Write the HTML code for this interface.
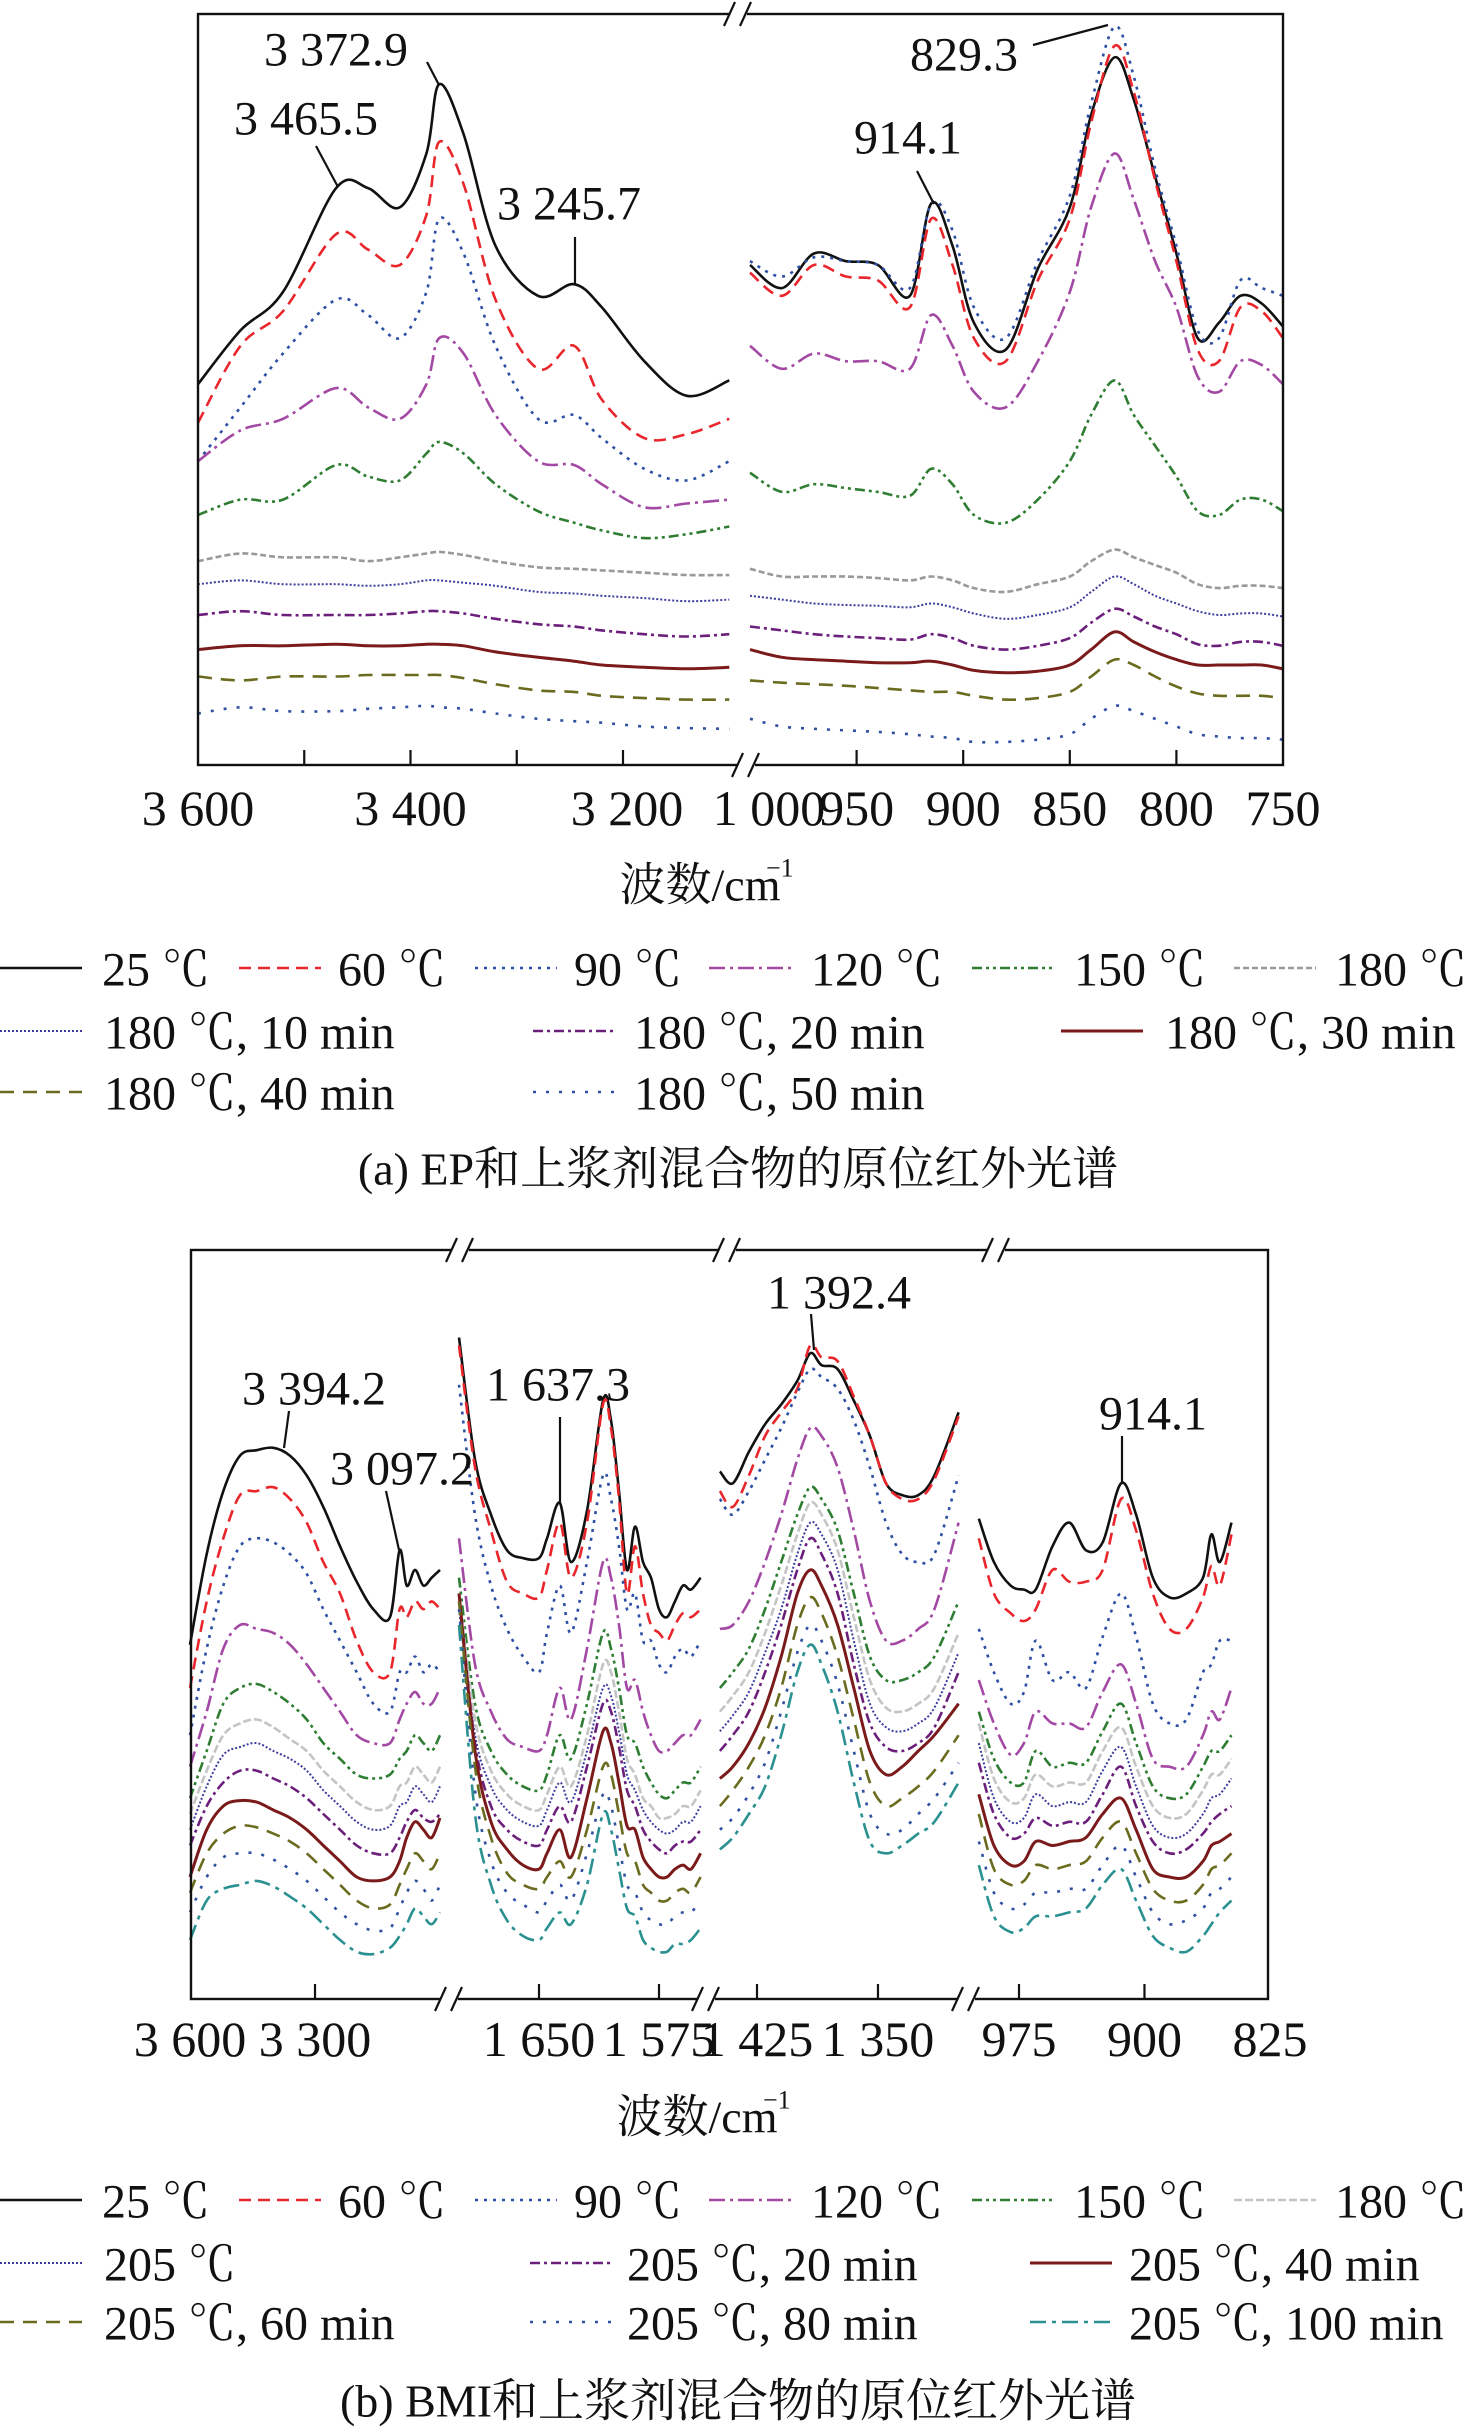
<!DOCTYPE html>
<html><head><meta charset="utf-8">
<style>
html,body{margin:0;padding:0;background:#fff;}
svg{display:block;}
text{font-family:"Liberation Serif","Noto Serif CJK SC",serif;fill:#111;}
</style></head>
<body>
<svg id="fig" width="1476" height="2434" viewBox="0 0 1476 2434" xmlns="http://www.w3.org/2000/svg"></svg>
<script>
// ---------- shared series styling ----------
const aLabels = ["25 ℃","60 ℃","90 ℃","120 ℃","150 ℃","180 ℃","180 ℃, 10 min","180 ℃, 20 min","180 ℃, 30 min","180 ℃, 40 min","180 ℃, 50 min"];
const bLabels = ["25 ℃","60 ℃","90 ℃","120 ℃","150 ℃","180 ℃","205 ℃","205 ℃, 20 min","205 ℃, 40 min","205 ℃, 60 min","205 ℃, 80 min","205 ℃, 100 min"];

// ---------- chart (a) data: intensity (a.u.) ----------
const aLeftWn = [3600,3560,3520,3470,3440,3410,3385,3373,3350,3320,3280,3246,3220,3180,3140,3100];
const aL0 = [495,565,615,750,750,725,795,885,820,675,610,625,595,525,480,500];
const aL1 = [445,545,590,690,670,650,715,810,755,605,515,545,475,425,430,450];
const aL2 = [395,465,535,605,585,555,615,710,665,545,450,455,425,385,370,395];
const aL3 = [395,435,450,490,465,450,495,555,535,455,395,390,365,335,340,345];
const aL4 = [325,345,345,390,375,370,405,420,405,365,330,315,305,295,300,310];
const aL5 = [265,275,270,270,265,270,275,277,273,265,257,255,253,250,247,247];
const aL6 = [235,240,235,235,233,235,240,240,237,233,225,223,220,217,213,215];
const aL7 = [195,200,195,195,195,197,200,200,197,190,183,180,175,170,167,170];
const aL8 = [150,155,155,157,155,155,157,157,155,147,140,135,130,127,125,127];
const aL9 = [115,110,115,115,117,117,117,117,113,105,97,95,90,87,85,85];
const aL10 = [67,75,70,70,73,75,77,75,73,67,60,57,55,50,48,47];
const aLeftVals = [aL0,aL1,aL2,aL3,aL4,aL5,aL6,aL7,aL8,aL9,aL10];

const aRightWn = [1000,985,970,955,940,925,915,905,895,880,865,850,840,829,820,810,800,790,780,770,760,750];
const aR0 = [650,620,665,655,650,610,730,675,575,540,645,725,845,920,865,765,665,555,575,610,600,570];
const aR1 = [640,610,650,635,630,595,710,650,555,525,630,710,835,935,875,760,655,540,525,595,590,555];
const aR2 = [655,635,660,655,650,620,730,695,595,555,655,740,860,960,895,775,675,565,555,630,620,610];
const aR3 = [545,515,535,525,525,515,585,545,485,465,525,615,725,795,735,655,595,505,485,525,520,495];
const aR4 = [380,355,365,360,355,350,385,365,325,315,345,395,455,500,455,415,375,330,325,345,345,330];
const aR5 = [255,245,245,245,243,240,245,240,230,225,235,245,265,280,270,260,250,235,230,233,233,230];
const aR6 = [220,215,210,208,207,205,210,205,197,190,195,205,225,245,235,220,210,200,195,197,197,193];
const aR7 = [180,175,170,167,165,163,170,165,155,150,155,165,185,203,193,180,170,157,155,160,160,155];
const aR8 = [150,140,137,135,133,133,135,130,123,120,122,130,150,173,160,147,137,130,130,130,130,125];
const aR9 = [110,107,105,103,100,97,95,95,90,85,87,95,115,137,130,115,102,93,90,90,90,87];
const aR10 = [60,50,47,45,43,40,37,35,30,30,33,40,60,77,70,60,50,40,37,35,35,33];
const aRightVals = [aR0,aR1,aR2,aR3,aR4,aR5,aR6,aR7,aR8,aR9,aR10];

// ---------- chart (b) data ----------
const bP1Wn = [3600,3560,3520,3480,3440,3400,3360,3320,3280,3240,3200,3160,3120,3097,3080,3060,3040,3020,3000];
const bP1Vals = [
 [450,565,645,690,697,700,690,665,625,575,530,495,485,570,525,545,525,535,545],
 [395,505,585,640,645,650,635,605,555,515,455,415,415,495,485,505,495,505,495],
 [335,445,525,575,585,580,565,540,495,455,415,375,365,415,415,435,415,425,415],
 [295,365,445,475,470,465,450,425,395,365,335,325,325,355,375,390,375,375,395],
 [255,315,375,395,400,390,375,355,325,305,285,280,285,305,315,335,325,315,335],
 [235,290,335,350,355,345,330,315,290,270,250,240,245,270,275,295,285,275,295],
 [215,270,310,320,325,315,305,290,265,245,225,215,220,245,250,270,260,250,270],
 [195,245,275,290,290,280,270,255,235,215,195,185,185,205,225,240,230,225,235],
 [155,215,245,252,250,240,230,215,195,175,155,150,155,175,205,225,215,205,230],
 [135,185,210,220,218,210,200,185,165,145,125,115,120,145,165,185,175,165,185],
 [110,155,180,185,185,177,165,150,130,110,95,87,90,115,135,150,140,125,145],
 [75,125,140,145,150,143,130,115,95,75,60,57,65,80,95,115,105,95,110]
];
const bP2Wn = [1700,1690,1680,1670,1660,1650,1645,1637,1630,1620,1610,1605,1600,1595,1590,1585,1580,1575,1570,1565,1560,1555,1549];
const bP2Vals = [
 [840,685,615,570,560,560,585,630,555,620,760,735,645,545,600,555,535,495,485,505,525,520,535],
 [830,675,595,530,515,510,545,605,535,605,755,725,635,515,575,515,475,465,455,475,490,485,495],
 [780,615,525,470,435,415,465,525,465,555,665,635,575,495,515,455,455,425,415,435,445,435,455],
 [585,425,365,330,320,315,335,395,355,445,555,535,475,395,405,365,335,315,315,325,335,335,355],
 [535,375,315,285,270,265,285,335,305,375,465,445,395,335,325,295,275,260,255,265,275,275,295],
 [515,355,290,260,245,240,260,295,270,335,425,415,365,305,285,255,245,230,230,235,245,245,265],
 [495,335,270,240,225,220,240,275,250,315,395,385,340,285,265,240,225,215,210,215,225,225,245],
 [515,325,245,215,200,195,215,245,225,295,375,365,320,265,245,215,200,190,185,195,200,200,215],
 [515,315,225,190,170,165,185,215,180,255,340,325,275,220,215,180,165,155,155,165,170,165,185],
 [505,295,205,160,145,140,155,175,155,215,295,285,235,185,175,145,135,125,125,135,140,135,155],
 [495,265,175,135,120,110,125,145,125,185,260,245,195,145,135,110,100,95,95,105,110,110,125],
 [475,235,145,100,80,75,90,110,95,145,235,215,165,115,105,75,65,60,60,70,70,75,90]
];
const bP3Wn = [1448,1440,1430,1420,1410,1400,1392,1385,1375,1365,1355,1345,1335,1325,1315,1300];
const bP3Vals = [
 [670,655,695,730,755,785,820,805,800,760,715,655,640,640,665,745],
 [645,625,665,715,745,775,830,815,810,765,715,655,635,635,660,740],
 [635,615,645,685,725,770,800,790,775,735,675,605,565,555,565,665],
 [470,475,505,555,615,685,725,715,675,595,505,455,455,470,495,605],
 [395,415,445,495,555,615,650,635,595,515,435,405,405,415,435,505],
 [365,385,415,465,525,590,630,615,570,485,405,370,365,375,395,465],
 [340,360,390,440,495,565,605,590,545,455,375,345,340,350,370,440],
 [315,335,365,415,475,545,585,565,515,425,350,320,315,325,345,415],
 [280,295,325,370,435,515,545,525,475,395,315,285,295,315,335,375],
 [245,265,295,335,395,475,510,490,435,355,275,245,255,270,290,335],
 [215,230,260,300,365,440,475,455,400,315,235,210,215,235,255,300],
 [190,205,235,270,335,415,450,425,365,275,200,185,195,210,225,275]
];
const bP4Wn = [999,990,980,972,965,955,945,935,925,914,905,895,885,875,865,860,855,848];
const bP4Vals = [
 [610,555,525,520,520,575,605,570,580,655,615,535,510,515,535,590,555,605],
 [585,515,490,480,495,545,530,530,545,635,595,515,470,470,510,550,525,590],
 [470,415,375,390,455,405,415,395,460,515,460,375,350,355,415,425,455,455],
 [405,350,310,325,365,350,350,345,390,425,375,305,295,295,335,365,355,395],
 [365,305,275,275,315,295,300,300,340,375,325,270,255,260,295,315,315,335],
 [350,280,250,255,285,270,275,275,315,345,295,245,230,235,265,285,285,305],
 [325,255,225,230,260,245,250,250,290,320,270,220,205,210,235,255,260,280],
 [300,235,205,210,230,220,225,225,260,295,245,200,185,190,210,225,235,245],
 [260,195,170,175,200,195,200,205,235,255,215,165,155,155,175,195,200,210],
 [235,165,145,150,170,165,170,175,205,225,185,140,125,125,145,165,170,185],
 [200,135,115,120,135,135,140,140,170,195,155,110,95,100,115,135,140,155],
 [170,105,85,90,105,105,110,115,145,165,125,80,65,60,80,95,110,125]
];

// ---------- styles ----------
const NS = "http://www.w3.org/2000/svg";
const svg = document.getElementById('fig');
const aStyles = [
 {c:"#111",d:"",w:2.6},{c:"#e8262b",d:"12,7",w:2.6},{c:"#2d4fa3",d:"3,6",w:2.6},
 {c:"#a349a4",d:"16,5,3,5",w:2.6},{c:"#2e7d32",d:"10,4,3,4,3,4",w:2.6},{c:"#999",d:"6,3",w:2.6},
 {c:"#3c3ca0",d:"2,2",w:2},{c:"#6b1f7b",d:"10,4,3,4",w:2.6},{c:"#7b1a1a",d:"",w:3},
 {c:"#6b6b1f",d:"14,9",w:2.6},{c:"#3050a0",d:"3,10",w:2.6}
];
const bStyles = [
 {c:"#111",d:"",w:2.6},{c:"#e8262b",d:"12,7",w:2.6},{c:"#2d4fa3",d:"3,6",w:2.6},
 {c:"#a349a4",d:"16,5,3,5",w:2.6},{c:"#2e7d32",d:"10,4,3,4,3,4",w:2.6},{c:"#c4c4c4",d:"8,3",w:2.6},
 {c:"#3c3ca0",d:"2,2",w:2},{c:"#6b1f7b",d:"10,4,3,4",w:2.6},{c:"#7b1a1a",d:"",w:3},
 {c:"#6b6b1f",d:"14,9",w:2.6},{c:"#3050a0",d:"3,10",w:2.6},{c:"#2a9090",d:"16,6,4,6",w:2.6}
];

function el(tag, attrs, parent){
  const e = document.createElementNS(NS, tag);
  for (const k in attrs) e.setAttribute(k, attrs[k]);
  (parent||svg).appendChild(e);
  return e;
}
function smoothPath(pts){
  let d = "M"+pts[0][0].toFixed(1)+","+pts[0][1].toFixed(1);
  for (let i=0;i<pts.length-1;i++){
    const p0=pts[Math.max(0,i-1)], p1=pts[i], p2=pts[i+1], p3=pts[Math.min(pts.length-1,i+2)];
    const c1x=p1[0]+(p2[0]-p0[0])/6, c1y=p1[1]+(p2[1]-p0[1])/6;
    const c2x=p2[0]-(p3[0]-p1[0])/6, c2y=p2[1]-(p3[1]-p1[1])/6;
    d += " C"+c1x.toFixed(1)+","+c1y.toFixed(1)+" "+c2x.toFixed(1)+","+c2y.toFixed(1)+" "+p2[0].toFixed(1)+","+p2[1].toFixed(1);
  }
  return d;
}
function drawSeries(wns, vals, xf, yf, styles, panelName){
  const g = el('g',{});
  
  
  vals.forEach((arr, si)=>{
    const pts = arr.map((v,i)=>[xf(wns[i]), yf(v)]);
    const st = styles[si];
    const p = el('path',{d:smoothPath(pts),fill:"none",stroke:st.c,"stroke-width":st.w,"stroke-dasharray":st.d,"stroke-linejoin":"round"},g);
    
    
  });
}
function txt(x,y,s,size,anchor,name,parent){
  const t = el('text',{x:x,y:y,"font-size":size,"text-anchor":anchor||"start","dominant-baseline":"central"},parent);
  t.textContent = s;
  
  
  return t;
}
function line(x1,y1,x2,y2,name,w){
  const l = el('line',{x1:x1,y1:y1,x2:x2,y2:y2,stroke:"#111","stroke-width":w||2.2});
  
  
  return l;
}
function breakMark(x,y,name){
  const g = el('g',{});
  
  
  el('rect',{x:x-9,y:y-4,width:18,height:8,fill:"#fff"},g);
  el('line',{x1:x-14,y1:y+12,x2:x-3,y2:y-12,stroke:"#111","stroke-width":2.2},g);
  el('line',{x1:x+2,y1:y+12,x2:x+13,y2:y-12,stroke:"#111","stroke-width":2.2},g);
}
function legend(items, styles, rows, prefix){
  items.forEach((it)=>{
    const st = styles[it.i];
    const l = el('line',{x1:it.lx,y1:rows[it.r],x2:it.lx+82,y2:rows[it.r],stroke:st.c,"stroke-width":st.w,"stroke-dasharray":st.d});
    
    
    txt(it.tx, rows[it.r]+2, it.s, 48, "start", prefix+'-legend-label-'+it.i);
  });
}

// ================= Chart (a) =================
const aTop=14, aBot=765, aL=198, aR=1283;
const aYf = v => aBot - v/1.3;
const aXL = w => aL + (3600-w)*1.0625;
const aXR = w => 750 + (1000-w)*2.132;
drawSeries(aLeftWn, aLeftVals, aXL, aYf, aStyles, 'a-left');
drawSeries(aRightWn, aRightVals, aXR, aYf, aStyles, 'a-right');
const fa = el('rect',{x:aL,y:aTop,width:aR-aL,height:aBot-aTop,fill:"none",stroke:"#111","stroke-width":2.4});


breakMark(738,aTop,'a-top-axis-break');
breakMark(746,aBot,'a-bottom-axis-break');
const aTickL = [3600,3500,3400,3300,3200];
const aTickR = [950,900,850,800,750];
aTickL.forEach(w=>{ if(w!==3600) line(aXL(w),aBot,aXL(w),aBot-15,'a-x-tick'); });
aTickR.forEach(w=>{ if(w!==750) line(aXR(w),aBot,aXR(w),aBot-15,'a-x-tick'); });
const aLblL = ["3 600","3 400","3 200"], aLblLw=[3600,3400,3200];
aLblL.forEach((s,i)=>txt(aXL(aLblLw[i])+(i==2?4:0),808,s,50,"middle",'a-x-tick-label'));
txt(769,808,"1 000",50,"middle",'a-x-tick-label');
const aLblR = [950,900,850,800,750];
aLblR.forEach(w=>txt(aXR(w),808,String(w),50,"middle",'a-x-tick-label'));
const ax = txt(700,885,"波数/cm",46,"middle",'a-x-axis-title');
const axs = el('text',{x:766,y:868,"font-size":26,"dominant-baseline":"central"}); axs.textContent="−1";
 
// annotations
txt(264,50,"3 372.9",48,"start",'a-peak-label-3372');  line(427,62,439,85,'a-peak-leader-3372');
txt(234,119,"3 465.5",48,"start",'a-peak-label-3465'); line(316,146,338,187,'a-peak-leader-3465');
txt(497,204,"3 245.7",48,"start",'a-peak-label-3245'); line(575,237,575,285,'a-peak-leader-3245');
txt(854,138,"914.1",48,"start",'a-peak-label-914');    line(917,171,934,204,'a-peak-leader-914');
txt(910,55,"829.3",48,"start",'a-peak-label-829');     line(1033,45,1108,25,'a-peak-leader-829');
legend([
 {i:0,r:0,lx:0,tx:102,s:aLabels[0]},{i:1,r:0,lx:239,tx:338,s:aLabels[1]},{i:2,r:0,lx:475,tx:574,s:aLabels[2]},
 {i:3,r:0,lx:709,tx:811,s:aLabels[3]},{i:4,r:0,lx:972,tx:1074,s:aLabels[4]},{i:5,r:0,lx:1234,tx:1335,s:aLabels[5]},
 {i:6,r:1,lx:0,tx:104,s:aLabels[6]},{i:7,r:1,lx:533,tx:634,s:aLabels[7]},{i:8,r:1,lx:1061,tx:1165,s:aLabels[8]},
 {i:9,r:2,lx:0,tx:104,s:aLabels[9]},{i:10,r:2,lx:533,tx:634,s:aLabels[10]}
], aStyles, [968,1031,1092], 'a');
txt(738,1169,"(a) EP和上浆剂混合物的原位红外光谱",46,"middle",'a-caption');

// ================= Chart (b) =================
const bTop=1250, bBot=1999, bL=191, bR=1268;
const bYf = v => bBot - v/1.27;
const bX1 = w => 190 + (3600-w)*0.4167;
const bX2 = w => 539 + (1650-w)*1.6;
const bX3 = w => 757 + (1425-w)*1.613;
const bX4 = w => 1019 + (975-w)*1.673;
drawSeries(bP1Wn, bP1Vals, bX1, bYf, bStyles, 'b-p1');
drawSeries(bP2Wn, bP2Vals, bX2, bYf, bStyles, 'b-p2');
drawSeries(bP3Wn, bP3Vals, bX3, bYf, bStyles, 'b-p3');
drawSeries(bP4Wn, bP4Vals, bX4, bYf, bStyles, 'b-p4');
const fb = el('rect',{x:bL,y:bTop,width:bR-bL,height:bBot-bTop,fill:"none",stroke:"#111","stroke-width":2.4});


[460,727,996].forEach((x,i)=>breakMark(x,bTop,'b-top-axis-break-'+i));
[449,706,966].forEach((x,i)=>breakMark(x,bBot,'b-bottom-axis-break-'+i));
const bTicks = [[bX1,3300],[bX2,1650],[bX2,1575],[bX3,1425],[bX3,1350],[bX4,975],[bX4,900]];
bTicks.forEach(t=>line(t[0](t[1]),bBot,t[0](t[1]),bBot-15,'b-x-tick'));
const bTickLabels = ["3 600","3 300","1 650","1 575","1 425","1 350","975","900","825"];
const bTickFns = [[bX1,3600],[bX1,3300],[bX2,1650],[bX2,1575],[bX3,1425],[bX3,1350],[bX4,975],[bX4,900],[bX4,825]];
bTickLabels.forEach((s,i)=>txt(bTickFns[i][0](bTickFns[i][1]),2039,s,50,"middle",'b-x-tick-label'));
txt(697,2117,"波数/cm",46,"middle",'b-x-axis-title');
const bxs = el('text',{x:763,y:2100,"font-size":26,"dominant-baseline":"central"}); bxs.textContent="−1";
 
txt(242,1389,"3 394.2",48,"start",'b-peak-label-3394');  line(289,1411,284,1448,'b-peak-leader-3394');
txt(330,1469,"3 097.2",48,"start",'b-peak-label-3097');  line(386,1491,399,1550,'b-peak-leader-3097');
txt(486,1385,"1 637.3",48,"start",'b-peak-label-1637');  line(560,1417,560,1503,'b-peak-leader-1637');
txt(767,1293,"1 392.4",48,"start",'b-peak-label-1392');  line(811,1314,814,1350,'b-peak-leader-1392');
txt(1099,1414,"914.1",48,"start",'b-peak-label-914');    line(1122,1436,1122,1483,'b-peak-leader-914');
legend([
 {i:0,r:0,lx:0,tx:102,s:bLabels[0]},{i:1,r:0,lx:239,tx:338,s:bLabels[1]},{i:2,r:0,lx:475,tx:574,s:bLabels[2]},
 {i:3,r:0,lx:709,tx:811,s:bLabels[3]},{i:4,r:0,lx:972,tx:1074,s:bLabels[4]},{i:5,r:0,lx:1234,tx:1335,s:bLabels[5]},
 {i:6,r:1,lx:0,tx:104,s:bLabels[6]},{i:7,r:1,lx:530,tx:627,s:bLabels[7]},{i:8,r:1,lx:1030,tx:1129,s:bLabels[8]},
 {i:9,r:2,lx:0,tx:104,s:bLabels[9]},{i:10,r:2,lx:530,tx:627,s:bLabels[10]},{i:11,r:2,lx:1030,tx:1129,s:bLabels[11]}
], bStyles, [2200,2263,2322], 'b');
txt(738,2401,"(b) BMI和上浆剂混合物的原位红外光谱",46,"middle",'b-caption');
</script>
</body></html>
